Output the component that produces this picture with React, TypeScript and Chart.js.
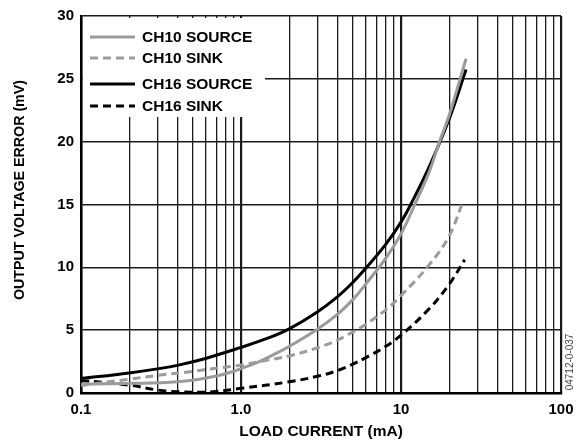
import React, { useEffect, useRef } from 'react';
import { Chart, registerables } from 'chart.js';

Chart.register(...registerables);

const seriesNames = ['CH10 SOURCE', 'CH10 SINK', 'CH16 SOURCE', 'CH16 SINK'];

const ch10SourceX = [0.1, 0.2, 0.3, 0.4, 0.55, 0.7, 0.85, 1.0, 1.3, 1.6, 2, 3, 4, 5, 6.2, 8, 10, 12.2, 15, 17.3, 20, 25.5];
const ch10SourceY = [0.7, 0.76, 0.81, 0.89, 1.1, 1.35, 1.63, 1.94, 2.5, 3.05, 3.7, 5.07, 6.25, 7.43, 8.87, 10.7, 12.66, 15.0, 17.6, 19.9, 22.1, 26.6];

const ch10SinkX = [0.1, 0.2, 0.3, 0.5, 0.7, 1.0, 1.3, 2, 3, 4, 5, 6, 8, 10, 15, 20, 24.5];
const ch10SinkY = [0.6, 1.1, 1.4, 1.72, 1.97, 2.22, 2.5, 2.95, 3.6, 4.2, 4.85, 5.45, 6.6, 7.75, 10.2, 12.5, 15.3];

const ch16SourceX = [0.1, 0.2, 0.3, 0.4, 0.6, 1.0, 1.5, 2, 3, 4, 5, 6, 8, 10, 11.5, 15, 20, 25.5];
const ch16SourceY = [1.15, 1.6, 1.92, 2.2, 2.75, 3.63, 4.4, 5.1, 6.45, 7.65, 8.8, 9.9, 11.8, 13.6, 15.0, 18.0, 21.8, 25.75];

const ch16SinkX = [0.1, 0.2, 0.3, 0.4, 0.55, 0.7, 1.0, 2, 3, 4, 5, 6, 8, 10, 15, 20, 25];
const ch16SinkY = [1.0, 0.63, 0.24, 0.1, 0.06, 0.12, 0.37, 0.89, 1.33, 1.78, 2.3, 2.8, 3.7, 4.6, 6.7, 8.65, 10.6];

const xGridValues = [
  0.1, 0.2, 0.3, 0.4, 0.5, 0.6, 0.7, 0.8, 0.9,
  1, 2, 3, 4, 5, 6, 7, 8, 9,
  10, 20, 30, 40, 50, 60, 70, 80, 90, 100,
];
const xLabelValues = [0.1, 1, 10, 100];
const xLabelTexts = ['0.1', '1.0', '10', '100'];
const yMin = 0;
const yMax = 30;
const yStep = 5;

const xTitle = 'LOAD CURRENT (mA)';
const yTitle = 'OUTPUT VOLTAGE ERROR (mV)';
const figureId = '04712-0-037';

const GRAY = '#9b9b9b';
const BLACK = '#000000';
const FONT = '"Liberation Sans", Arial, Helvetica, sans-serif';

const toPoints = (xs: number[], ys: number[]) => xs.map((x, i) => ({ x, y: ys[i] }));

const isDecade = (v: number) => xLabelValues.some((d) => Math.abs(d - v) < 1e-9);

export default function App() {
  const ref = useRef<HTMLCanvasElement | null>(null);

  useEffect(() => {
    if (!ref.current) return;
    const styles = [
      { color: GRAY, dash: [] as number[] },
      { color: GRAY, dash: [8, 5] },
      { color: BLACK, dash: [] as number[] },
      { color: BLACK, dash: [8, 5] },
    ];
    const overlay = {
      id: 'overlay',
      beforeDatasetsDraw(chart: any) {
        const { ctx, chartArea: a } = chart;
        ctx.save();
        ctx.fillStyle = '#ffffff';
        ctx.fillRect(a.left + 2, a.top + 2, 265 - (a.left + 2), 117 - (a.top + 2));
        ctx.restore();
      },
      afterDraw(chart: any) {
        const { ctx, chartArea: a } = chart;
        ctx.save();
        // legend
        const rows = [21, 42, 68, 90];
        ctx.font = `bold 15.5px ${FONT}`;
        ctx.textBaseline = 'middle';
        ctx.textAlign = 'left';
        seriesNames.forEach((name, i) => {
          const y = a.top + rows[i];
          ctx.beginPath();
          ctx.strokeStyle = styles[i].color;
          ctx.lineWidth = 3;
          ctx.setLineDash(styles[i].dash);
          ctx.moveTo(a.left + 9, y);
          ctx.lineTo(a.left + 54, y);
          ctx.stroke();
          ctx.setLineDash([]);
          ctx.fillStyle = '#000';
          ctx.fillText(name, a.left + 61, y + 1);
        });
        // x title
        ctx.font = `bold 15.5px ${FONT}`;
        ctx.textAlign = 'center';
        ctx.textBaseline = 'middle';
        ctx.fillStyle = '#000';
        ctx.fillText(xTitle, (a.left + a.right) / 2, 432);
        // y title (slightly condensed)
        ctx.save();
        ctx.translate(20, 190);
        ctx.rotate(-Math.PI / 2);
        ctx.font = `bold 15.5px ${FONT}`;
        const w = ctx.measureText(yTitle).width;
        const sx = 220 / w;
        ctx.scale(sx, 1);
        ctx.fillText(yTitle, 0, 0);
        ctx.restore();
        // figure id
        ctx.save();
        ctx.translate(570, 362);
        ctx.rotate(-Math.PI / 2);
        ctx.font = `10px ${FONT}`;
        ctx.fillStyle = '#444';
        ctx.textAlign = 'center';
        ctx.textBaseline = 'middle';
        ctx.fillText(figureId, 0, 0);
        ctx.restore();
        ctx.restore();
      },
    };

    const allX = [ch10SourceX, ch10SinkX, ch16SourceX, ch16SinkX];
    const allY = [ch10SourceY, ch10SinkY, ch16SourceY, ch16SinkY];

    const chart = new Chart(ref.current, {
      type: 'line',
      data: {
        datasets: seriesNames.map((name, i) => ({
          label: name,
          data: toPoints(allX[i], allY[i]),
          borderColor: styles[i].color,
          borderDash: styles[i].dash,
          borderWidth: 3,
          pointRadius: 0,
          fill: false,
          tension: 0.4,
        })),
      },
      options: {
        animation: false,
        responsive: false,
        devicePixelRatio: 1,
        layout: { padding: { left: 0, right: 24, top: 11, bottom: 0 } },
        plugins: { legend: { display: false }, tooltip: { enabled: false } },
        scales: {
          x: {
            type: 'logarithmic',
            min: 0.1,
            max: 100,
            afterBuildTicks: (scale: any) => {
              scale.ticks = xGridValues.map((v) => ({ value: v }));
            },
            afterFit: (scale: any) => {
              scale.height = 51;
            },
            ticks: {
              autoSkip: false,
              maxRotation: 0,
              padding: 8,
              color: '#000',
              font: { family: FONT, size: 15, weight: 'bold' },
              callback: (value: any) => {
                const idx = xLabelValues.findIndex((d) => Math.abs(d - Number(value)) < 1e-9);
                return idx >= 0 ? xLabelTexts[idx] : '';
              },
            },
            grid: {
              drawTicks: false,
              color: '#1a1a1a',
              lineWidth: (ctx: any) => (ctx.tick && isDecade(ctx.tick.value) ? 2.2 : 1.3),
            },
            border: { display: true, color: '#000', width: 2.5 },
          },
          y: {
            type: 'linear',
            min: yMin,
            max: yMax,
            afterFit: (scale: any) => {
              scale.width = 81;
            },
            ticks: {
              stepSize: yStep,
              padding: 7,
              color: '#000',
              font: { family: FONT, size: 15, weight: 'bold' },
            },
            grid: {
              drawTicks: false,
              color: '#1a1a1a',
              lineWidth: 1.5,
            },
            border: { display: true, color: '#000', width: 2.5 },
          },
        },
      },
      plugins: [overlay],
    } as any);
    return () => chart.destroy();
  }, []);

  return (
    <div style={{ position: 'absolute', left: 0, top: 0, width: 585, height: 444, background: '#fff' }}>
      <canvas ref={ref} width={585} height={444} />
    </div>
  );
}
